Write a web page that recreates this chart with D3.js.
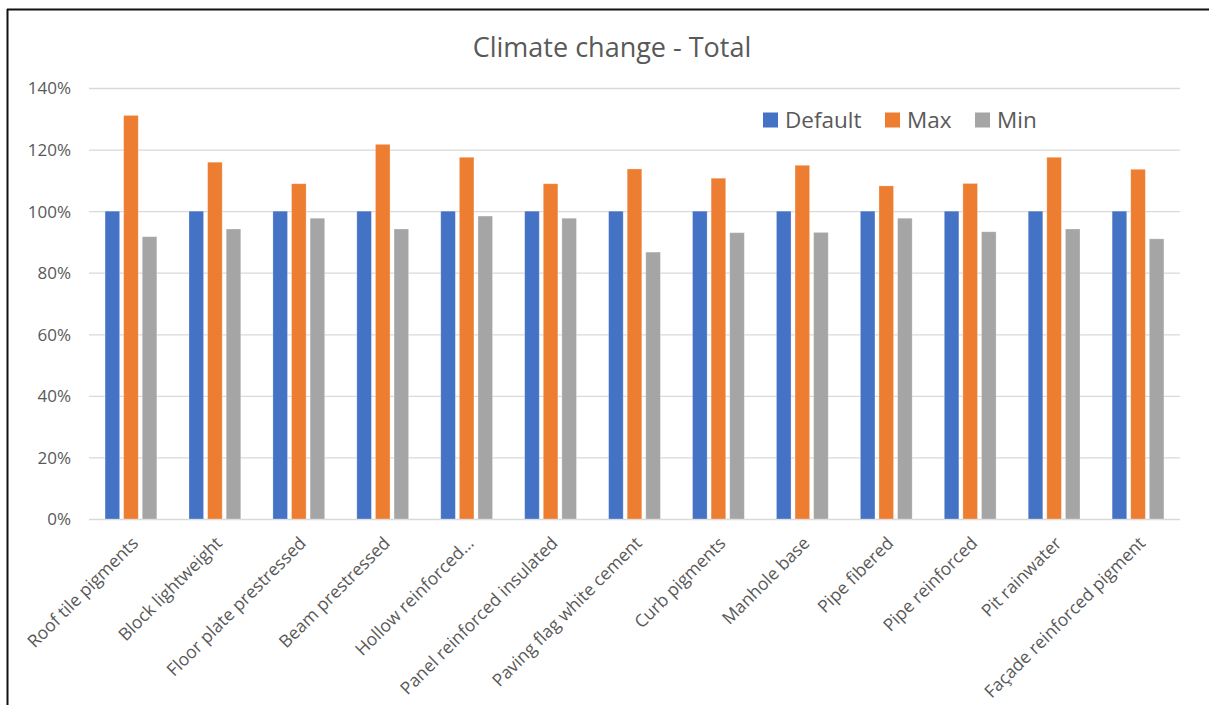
<!DOCTYPE html>
<html>
<head>
<meta charset="utf-8">
<script src="https://cdn.jsdelivr.net/npm/d3@7"></script>
<style>
  html, body { margin: 0; padding: 0; background: #fff; }
  svg { display: block; }
</style>
</head>
<body>
<svg id="chart" width="1209" height="705"></svg>
<script>
// Product categories (x axis)
const categories = [
  "Roof tile pigments", "Block lightweight", "Floor plate prestressed",
  "Beam prestressed", "Hollow reinforced\u2026", "Panel reinforced insulated",
  "Paving flag white cement", "Curb pigments", "Manhole base",
  "Pipe fibered", "Pipe reinforced", "Pit rainwater", "Fa\u00e7ade reinforced pigment"
];

// Series values, as fractions of the default
const defaultValues = [1, 1, 1, 1, 1, 1, 1, 1, 1, 1, 1, 1, 1];
const maxValues = [1.311, 1.159, 1.089, 1.217, 1.175, 1.089, 1.137, 1.107, 1.149, 1.082, 1.090, 1.175, 1.136];
const minValues = [0.917, 0.942, 0.977, 0.942, 0.984, 0.977, 0.867, 0.930, 0.931, 0.977, 0.933, 0.942, 0.910];

const seriesNames = ["Default", "Max", "Min"];
const seriesColors = ["#4472C4", "#ED7D31", "#A5A5A5"];

// Y axis ticks
const yTicks = [0, 0.2, 0.4, 0.6, 0.8, 1.0, 1.2, 1.4];

const series = [defaultValues, maxValues, minValues];
const textColor = "#595959";
const fontFamily = "'Open Sans', sans-serif";

const svg = d3.select("#chart");

// Outer frame (left and top edges)
svg.append("line").attr("x1", 7.5).attr("x2", 7.5).attr("y1", 9).attr("y2", 705)
  .attr("stroke", "#111").attr("stroke-width", 2);
svg.append("line").attr("x1", 7).attr("x2", 1209).attr("y1", 9.5).attr("y2", 9.5)
  .attr("stroke", "#111").attr("stroke-width", 2);

const plot = { left: 89, right: 1180, top: 88, bottom: 519 };

const x = d3.scaleBand().domain(categories).range([plot.left, plot.right]).paddingInner(0).paddingOuter(0);
const y = d3.scaleLinear().domain([0, 1.4]).range([plot.bottom, plot.top]);

// Gridlines and percentage labels
const yAxis = d3.axisLeft(y).tickValues(yTicks).tickFormat(d3.format(".0%"))
  .tickSize(-(plot.right - plot.left)).tickPadding(18);
const gy = svg.append("g").attr("transform", `translate(${plot.left},0)`).call(yAxis);
gy.select(".domain").remove();
gy.selectAll(".tick line").attr("stroke", "#d9d9d9").attr("stroke-width", 1.3);
gy.selectAll(".tick text").attr("fill", textColor).attr("font-size", 17)
  .attr("font-family", fontFamily).attr("dy", "0.35em");

// Bars: three series per category, small gap between them
const barW = 14.6, gap = 4;
const groupW = 3 * barW + 2 * gap;
const inner = d3.scaleBand().domain(seriesNames)
  .range([-groupW / 2, groupW / 2]).paddingInner(gap / (barW + gap)).paddingOuter(0);

seriesNames.forEach((name, si) => {
  svg.append("g").selectAll("rect")
    .data(categories.map((c, i) => ({ c, v: series[si][i] })))
    .join("rect")
    .attr("x", d => x(d.c) + x.bandwidth() / 2 + inner(name))
    .attr("y", d => y(d.v))
    .attr("width", inner.bandwidth())
    .attr("height", d => y(0) - y(d.v))
    .attr("fill", seriesColors[si])
    .attr("stroke", "#fff").attr("stroke-opacity", 0.35).attr("stroke-width", 0.8);
});

// Category labels, rotated
const xAxis = d3.axisBottom(x).tickSize(0).tickPadding(0);
const gx = svg.append("g").attr("transform", `translate(0,${plot.bottom})`).call(xAxis);
gx.select(".domain").remove();
gx.selectAll(".tick text")
  .attr("fill", textColor).attr("font-size", 17.5).attr("font-family", fontFamily)
  .attr("text-anchor", "end")
  .attr("transform", "translate(4,21) rotate(-45)")
  .attr("dy", "0.35em").attr("y", 0).attr("x", 0);

// Title
svg.append("text").attr("x", 612).attr("y", 57).attr("text-anchor", "middle")
  .attr("fill", textColor).attr("font-size", 27).attr("font-family", fontFamily)
  .text("Climate change - Total");

// Legend
const legendPos = [763, 885, 975];
const legend = svg.append("g");
seriesNames.forEach((name, i) => {
  legend.append("rect").attr("x", legendPos[i]).attr("y", 112.5).attr("width", 15).attr("height", 15)
    .attr("fill", seriesColors[i]);
  legend.append("text").attr("x", legendPos[i] + 22).attr("y", 120).attr("dy", "0.35em")
    .attr("fill", textColor).attr("font-size", 22.5).attr("font-family", fontFamily).text(name);
});
</script>
</body>
</html>
